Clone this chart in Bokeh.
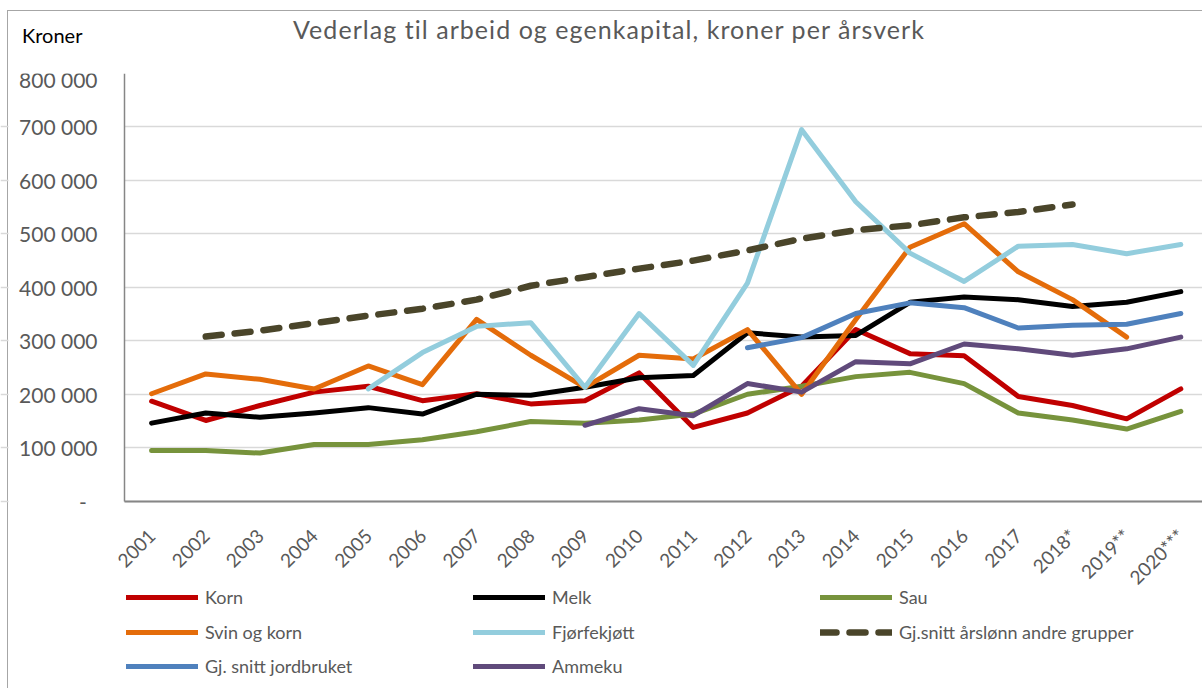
import numpy as np
from math import pi
from bokeh.plotting import figure
from bokeh.models import Range1d, FixedTicker, Legend, LegendItem, Div, BoxAnnotation
from bokeh.layouts import column
from bokeh.embed import file_html
from bokeh.resources import INLINE

# ---------------- data ----------------
years = ["2001", "2002", "2003", "2004", "2005", "2006", "2007", "2008", "2009", "2010",
         "2011", "2012", "2013", "2014", "2015", "2016", "2017", "2018*", "2019**", "2020***"]

korn = [187000, 151000, 179000, 204000, 215000, 188000, 201000, 182000, 188000, 240000,
        138000, 165000, 215000, 321000, 276000, 272000, 196000, 179000, 154000, 210000]
melk = [146000, 165000, 157000, 165000, 175000, 163000, 200000, 198000, 213000, 231000,
        235000, 315000, 307000, 310000, 372000, 382000, 377000, 364000, 372000, 392000]
sau = [95000, 95000, 90000, 106000, 106000, 115000, 130000, 149000, 146000, 152000,
       163000, 200000, 215000, 233000, 241000, 220000, 165000, 152000, 135000, 168000]
svin_og_korn = [201000, 238000, 228000, 210000, 253000, 218000, 340000, 273000, 213000, 273000,
                266000, 321000, 200000, 340000, 475000, 519000, 429000, 377000, 307000, None]
fjorfekjott = [None, None, None, None, 210000, 278000, 327000, 334000, 213000, 351000,
               254000, 408000, 695000, 560000, 464000, 411000, 477000, 480000, 463000, 480000]
arslonn_andre = [None, 308000, 319000, 333000, 347000, 360000, 377000, 403000, 419000, 435000,
                 450000, 469000, 491000, 507000, 516000, 531000, 541000, 555000, None, None]
snitt_jordbruket = [None, None, None, None, None, None, None, None, None, None,
                    None, 287000, 306000, 351000, 371000, 362000, 324000, 329000, 331000, 351000]
ammeku = [None, None, None, None, None, None, None, None, 142000, 173000,
          160000, 220000, 204000, 261000, 257000, 294000, 285000, 273000, 285000, 307000]

y_ticks = [0, 100000, 200000, 300000, 400000, 500000, 600000, 700000, 800000]
y_tick_labels = ["-\u00a0\u00a0", "100 000", "200 000", "300 000", "400 000",
                 "500 000", "600 000", "700 000", "800 000"]

title_text = "Vederlag til arbeid og egenkapital, kroner per årsverk"
unit_text = "Kroner"

# ---------------- layout ----------------
PAGE_W, PAGE_H = 1202, 688
HEAD_H = 66
W, H = PAGE_W, PAGE_H - HEAD_H
BT = 7
AXIS_X = 124                     # page x of the value axis
STEP = 54.17                     # px per category
x_start = -0.5 - AXIS_X / STEP
x_end = -0.5 + (PAGE_W - AXIS_X) / STEP

FRAME_TOP = HEAD_H + BT          # page y of the 800 000 line
ZERO_Y = 500.7                   # page y of the zero line
Y_MAX = 800000
y_start = -Y_MAX * (PAGE_H - ZERO_Y) / (ZERO_Y - FRAME_TOP)

GREY = "#595959"
AXIS = "#868686"
TICK_FONT = "Lato"
LEGEND_FONT = "Lato"

header = Div(
    text=(
        f'<div style="position:relative;width:{PAGE_W}px;height:{HEAD_H}px;font-family:Lato;">'
        f'<span style="position:absolute;left:22px;top:23px;font-size:20px;line-height:24px;'
        f'color:#000000;white-space:nowrap;">{unit_text}</span>'
        f'<span style="position:absolute;left:293px;top:14px;font-size:25px;line-height:30px;'
        f'letter-spacing:1.05px;color:{GREY};white-space:nowrap;">{title_text}</span>'
        '</div>'
    ),
    width=PAGE_W, height=HEAD_H, margin=0,
)

p = figure(width=W, height=H, output_backend="svg", toolbar_location=None, title=None,
           x_range=Range1d(x_start, x_end), y_range=Range1d(y_start, Y_MAX),
           min_border_left=0, min_border_right=0, min_border_top=BT,
           min_border_bottom=0, margin=0)
p.outline_line_color = None
p.background_fill_alpha = 0
p.border_fill_alpha = 0

# y axis, drawn at the left edge of the category area
p.yaxis.fixed_location = -0.5
p.yaxis.ticker = FixedTicker(ticks=y_ticks)
p.yaxis.bounds = (0, Y_MAX)
p.yaxis.major_label_overrides = {t: l for t, l in zip(y_ticks, y_tick_labels)}
p.yaxis.major_tick_line_color = None
p.yaxis.minor_tick_line_color = None
p.yaxis.axis_line_color = AXIS
p.yaxis.axis_line_width = 1.5
p.yaxis.major_label_text_font = TICK_FONT
p.yaxis.major_label_text_font_size = "21px"
p.yaxis.major_label_text_color = GREY
p.yaxis.major_label_standoff = 21

# x axis, drawn on the zero line
xs = list(range(len(years)))
p.xaxis.fixed_location = 0
p.xaxis.bounds = (-0.5, x_end)
p.xaxis.ticker = FixedTicker(ticks=xs)
p.xaxis.major_label_overrides = {i: y for i, y in zip(xs, years)}
p.xaxis.major_tick_line_color = None
p.xaxis.minor_tick_line_color = None
p.xaxis.axis_line_color = AXIS
p.xaxis.axis_line_width = 2
p.xaxis.major_label_orientation = pi / 4
p.xaxis.major_label_text_font = TICK_FONT
p.xaxis.major_label_text_font_size = "19px"
p.xaxis.major_label_text_color = GREY
p.xaxis.major_label_standoff = 25

p.xgrid.grid_line_color = None
p.ygrid.ticker = FixedTicker(ticks=y_ticks)
p.ygrid.grid_line_color = "#D9D9D9"
p.ygrid.grid_line_width = 1.5

# keep the gridlines to the right of the value axis (white mask over the label area)
p.add_layout(BoxAnnotation(left=x_start + 8 / STEP, right=-0.5, fill_color="white",
                           fill_alpha=1, line_alpha=0, level="underlay"))


def arr(v):
    return np.array([np.nan if a is None else a for a in v], dtype=float)


series = [
    ("Korn", korn, "#C00000", None),
    ("Melk", melk, "#000000", None),
    ("Sau", sau, "#77933C", None),
    ("Svin og korn", svin_og_korn, "#E46C0A", None),
    ("Fjørfekjøtt", fjorfekjott, "#93CDDD", None),
    ("Gj.snitt årslønn andre grupper", arslonn_andre, "#4A452A", "16 13"),
    ("Gj. snitt jordbruket", snitt_jordbruket, "#4F81BD", None),
    ("Ammeku", ammeku, "#604A7B", None),
]

items = []
for name, vals, color, dash in series:
    kw = dict(line_color=color, line_join="round", line_cap="round")
    if dash:
        r = p.line(xs, arr(vals), line_width=6.5, line_dash=dash, **kw)
    else:
        r = p.line(xs, arr(vals), line_width=5, **kw)
    items.append(LegendItem(label=name, renderers=[r]))

# three legend rows of three items each (Excel-style grid)
ROW0_CENTER, ROW_PITCH, LEG_PAD, ITEM_H = 593, 34.5, 4, 26
LEG_X = 130
for row, k in enumerate(range(0, len(items), 3)):
    center = ROW0_CENTER + row * ROW_PITCH
    bottom = center + ITEM_H / 2 + LEG_PAD
    lg = Legend(items=items[k:k + 3], orientation="horizontal",
                location=(LEG_X - LEG_PAD, PAGE_H - bottom),
                glyph_width=72, glyph_height=ITEM_H, label_standoff=7,
                label_width=260, label_height=ITEM_H, spacing=8,
                padding=LEG_PAD, margin=0,
                border_line_color=None, background_fill_alpha=0,
                label_text_font=LEGEND_FONT,
                label_text_font_size="18px", label_text_color=GREY)
    p.add_layout(lg)

layout = column(
    header, p, spacing=0, margin=0,
    styles={"box-shadow": "inset 7px 0 0 0 #ffffff, inset 0 10px 0 0 #ffffff, "
                          "inset 8px 0 0 0 #a6a6a6, inset 0 11px 0 0 #a6a6a6",
            "background-color": "#ffffff"},
)

open("out.html", "w").write(file_html(layout, INLINE))
